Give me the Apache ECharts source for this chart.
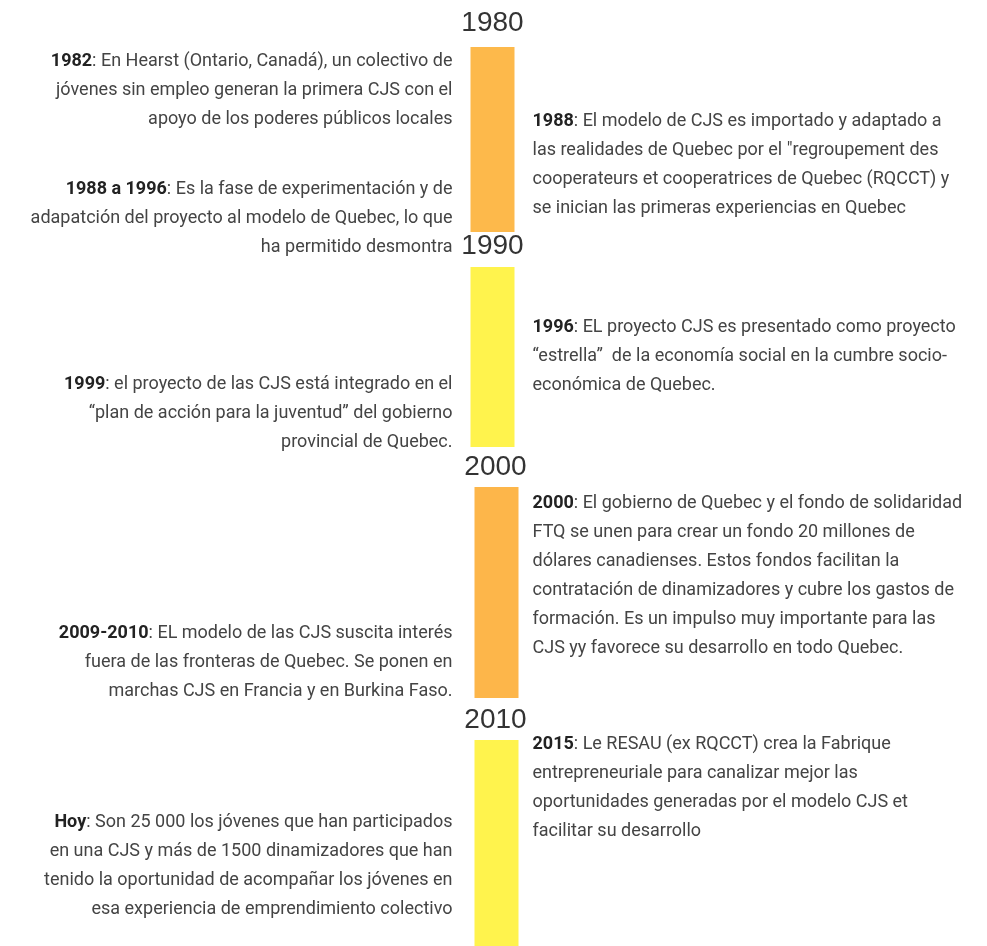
<!DOCTYPE html>
<html>
<head>
<meta charset="utf-8">
<script src="https://cdn.jsdelivr.net/npm/echarts@6/dist/echarts.min.js"></script>
<style>
  html, body { margin: 0; padding: 0; background: #fff; }
  #timeline { width: 987px; height: 946px; }
</style>
</head>
<body>
<div id="timeline"></div>
<script>
// decades on the timeline (position in years along the vertical axis)
const decades = ['1980', '1990', '2000', '2010'];
const decadeAt = [1980.0, 1989.66, 1999.24, 2010.21];
const barStart = [1981.04, 1990.57, 2000.11, 2011.07];
const barEnd = [1989.06, 1998.37, 2009.25, 2020];

// notes: bold prefix + rest of the text, side of the line, position on timeline
const notePrefix = ['1982', '1988 a 1996', '1999', '2009-2010', 'Hoy', '1988', '1996', '2000', '2015'];
const noteSide = ['left', 'left', 'left', 'left', 'left', 'right', 'right', 'right', 'right'];
const noteAt = [1982.94, 1988.49, 1996.90, 2007.73, 2016.53, 1986.15, 1994.47, 2003.96, 2013.15];
const noteText = [
  ': En Hearst (Ontario, Canadá), un colectivo de\njóvenes sin empleo generan la primera CJS con el\napoyo de los poderes públicos locales',
  ': Es la fase de experimentación y de\nadapatción del proyecto al modelo de Quebec, lo que\nha permitido desmontra',
  ': el proyecto de las CJS está integrado en el\n“plan de acción para la juventud” del gobierno\nprovincial de Quebec.',
  ': EL modelo de las CJS suscita interés\nfuera de las fronteras de Quebec. Se ponen en\nmarchas CJS en Francia y en Burkina Faso.',
  ': Son 25 000 los jóvenes que han participados\nen una CJS y más de 1500 dinamizadores que han\ntenido la oportunidad de acompañar los jóvenes en\nesa experiencia de emprendimiento colectivo',
  ': El modelo de CJS es importado y adaptado a\nlas realidades de Quebec por el "regroupement des\ncooperateurs et cooperatrices de Quebec (RQCCT) y\nse inician las primeras experiencias en Quebec',
  ': EL proyecto CJS es presentado como proyecto\n“estrella”  de la economía social en la cumbre socio-\neconómica de Quebec.',
  ': El gobierno de Quebec y el fondo de solidaridad\nFTQ se unen para crear un fondo 20 millones de\ndólares canadienses. Estos fondos facilitan la\ncontratación de dinamizadores y cubre los gastos de\nformación. Es un impulso muy importante para las\nCJS yy favorece su desarrollo en todo Quebec.',
  ': Le RESAU (ex RQCCT) crea la Fabrique\nentrepreneuriale para canalizar mejor las\noportunidades generadas por el modelo CJS et\nfacilitar su desarrollo'
];

const barColors = ['#FDB94B', '#FFF34D', '#FDB64A', '#FFF34D'];
const textFont = 'Roboto';

const chart = echarts.init(document.getElementById('timeline'));

const option = {
  backgroundColor: '#ffffff',
  animation: false,
  grid: { left: 0, right: 0, top: 0, bottom: 0 },
  xAxis: { type: 'value', min: -1, max: 1, show: false },
  yAxis: { type: 'value', inverse: true, min: 1979, max: 2020, show: false },
  series: [
    {
      type: 'custom',
      name: 'decadas',
      data: decades.map((d, i) => [barStart[i], barEnd[i]]),
      renderItem: function (params, api) {
        const top = api.coord([0, api.value(0)]);
        const bottom = api.coord([0, api.value(1)]);
        const shift = params.dataIndex >= 2 ? 3 : -1;
        return {
          type: 'rect',
          shape: { x: top[0] - 22 + shift, y: top[1], width: 44, height: bottom[1] - top[1] },
          style: { fill: barColors[params.dataIndex] }
        };
      }
    },
    {
      type: 'custom',
      name: 'etiquetas',
      data: decades.map((d, i) => [decadeAt[i]]),
      renderItem: function (params, api) {
        const p = api.coord([0, api.value(0)]);
        const shift = params.dataIndex >= 2 ? 2 : -1;
        return {
          type: 'text',
          x: p[0] + shift,
          y: p[1],
          style: {
            text: decades[params.dataIndex],
            fontFamily: 'Liberation Sans',
            fontSize: 28,
            fill: '#333333',
            align: 'center',
            verticalAlign: 'middle'
          }
        };
      }
    },
    {
      type: 'custom',
      name: 'notas',
      data: noteAt.map((v) => [v]),
      renderItem: function (params, api) {
        const i = params.dataIndex;
        const p = api.coord([0, api.value(0)]);
        const left = noteSide[i] === 'left';
        return {
          type: 'text',
          x: left ? p[0] - 41 : p[0] + 39,
          y: p[1],
          style: {
            text: '{b|' + notePrefix[i] + '}' + noteText[i],
            fontFamily: textFont,
            fontSize: 18,
            lineHeight: 29,
            fill: '#444444',
            align: left ? 'right' : 'left',
            verticalAlign: 'middle',
            rich: {
              b: { fontFamily: textFont, fontSize: 18, fontWeight: 'bold', fill: '#222222', lineHeight: 29 }
            }
          }
        };
      }
    }
  ]
};

chart.setOption(option);
</script>
</body>
</html>
